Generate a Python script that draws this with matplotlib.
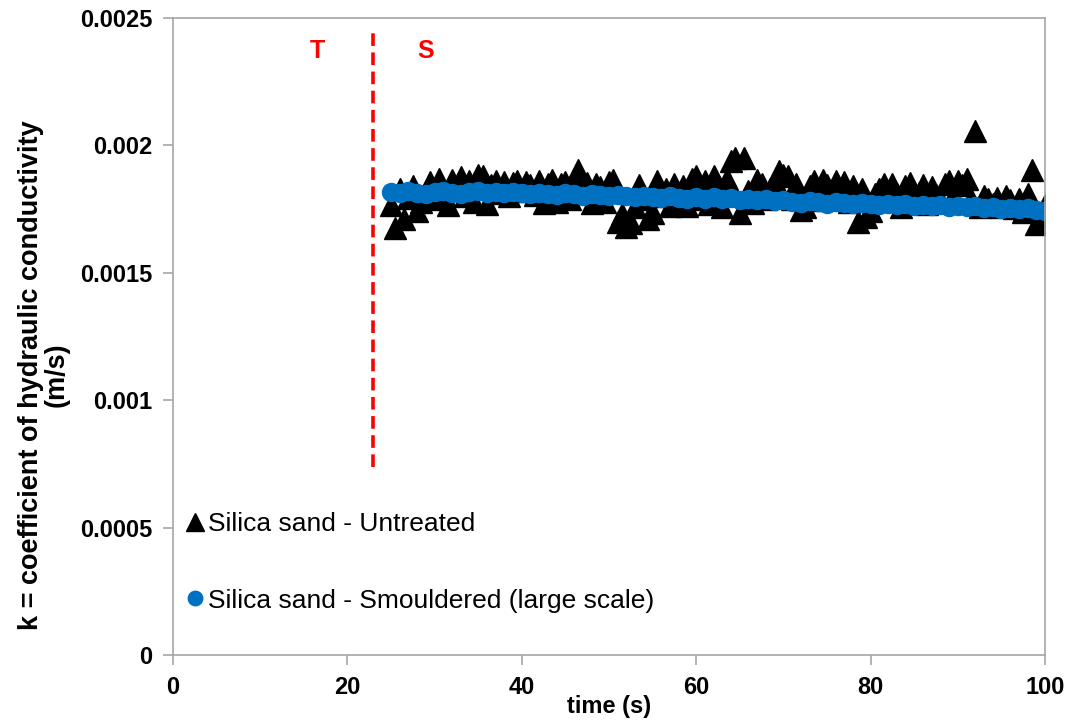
import numpy as np
import matplotlib
matplotlib.use("Agg")
from matplotlib import pyplot as plt

# untreated silica sand, k (m/s) sampled every 0.5 s
t_untreated = [
  25.0, 25.5, 26.0, 26.5, 27.0, 27.5, 28.0, 28.5, 29.0, 29.5,
  30.0, 30.5, 31.0, 31.5, 32.0, 32.5, 33.0, 33.5, 34.0, 34.5,
  35.0, 35.5, 36.0, 36.5, 37.0, 37.5, 38.0, 38.5, 39.0, 39.5,
  40.0, 40.5, 41.0, 41.5, 42.0, 42.5, 43.0, 43.5, 44.0, 44.5,
  45.0, 45.5, 46.0, 46.5, 47.0, 47.5, 48.0, 48.5, 49.0, 49.5,
  50.0, 50.5, 51.0, 51.5, 52.0, 52.5, 53.0, 53.5, 54.0, 54.5,
  55.0, 55.5, 56.0, 56.5, 57.0, 57.5, 58.0, 58.5, 59.0, 59.5,
  60.0, 60.5, 61.0, 61.5, 62.0, 62.5, 63.0, 63.5, 64.0, 64.5,
  65.0, 65.5, 66.0, 66.5, 67.0, 67.5, 68.0, 68.5, 69.0, 69.5,
  70.0, 70.5, 71.0, 71.5, 72.0, 72.5, 73.0, 73.5, 74.0, 74.5,
  75.0, 75.5, 76.0, 76.5, 77.0, 77.5, 78.0, 78.5, 79.0, 79.5,
  80.0, 80.5, 81.0, 81.5, 82.0, 82.5, 83.0, 83.5, 84.0, 84.5,
  85.0, 85.5, 86.0, 86.5, 87.0, 87.5, 88.0, 88.5, 89.0, 89.5,
  90.0, 90.5, 91.0, 91.5, 92.0, 92.5, 93.0, 93.5, 94.0, 94.5,
  95.0, 95.5, 96.0, 96.5, 97.0, 97.5, 98.0, 98.5, 99.0, 99.5,
  100.0,
]
k_untreated = [
  0.001765, 0.001676, 0.001830, 0.001712, 0.001795, 0.001840, 0.001742, 0.001780, 0.001820, 0.001858,
  0.001790, 0.001870, 0.001812, 0.001766, 0.001865, 0.001825, 0.001875, 0.001800, 0.001860, 0.001778,
  0.001884, 0.001880, 0.001770, 0.001845, 0.001862, 0.001815, 0.001858, 0.001800, 0.001852, 0.001860,
  0.001822, 0.001855, 0.001845, 0.001805, 0.001860, 0.001775, 0.001850, 0.001866, 0.001780, 0.001848,
  0.001858, 0.001790, 0.001870, 0.001905, 0.001815, 0.001852, 0.001776, 0.001850, 0.001835, 0.001778,
  0.001855, 0.001866, 0.001700, 0.001730, 0.001680, 0.001695, 0.001760, 0.001845, 0.001790, 0.001712,
  0.001735, 0.001860, 0.001800, 0.001830, 0.001762, 0.001850, 0.001780, 0.001840, 0.001762, 0.001870,
  0.001880, 0.001790, 0.001862, 0.001770, 0.001880, 0.001845, 0.001760, 0.001870, 0.001940, 0.001950,
  0.001735, 0.001950, 0.001820, 0.001775, 0.001865, 0.001850, 0.001790, 0.001830, 0.001862, 0.001900,
  0.001884, 0.001880, 0.001790, 0.001850, 0.001745, 0.001760, 0.001840, 0.001860, 0.001785, 0.001865,
  0.001845, 0.001790, 0.001862, 0.001820, 0.001855, 0.001778, 0.001840, 0.001700, 0.001830, 0.001720,
  0.001742, 0.001810, 0.001830, 0.001850, 0.001790, 0.001848, 0.001810, 0.001760, 0.001840, 0.001852,
  0.001800, 0.001815, 0.001845, 0.001770, 0.001835, 0.001805, 0.001790, 0.001850, 0.001860, 0.001800,
  0.001862, 0.001845, 0.001870, 0.001790, 0.002055, 0.001760, 0.001800, 0.001790, 0.001770, 0.001795,
  0.001760, 0.001800, 0.001785, 0.001755, 0.001790, 0.001740, 0.001810, 0.001905, 0.001690, 0.001720,
  0.001765,
]

# smouldered silica sand (large scale), one reading per second
t_smouldered = [
  25, 26, 27, 28, 29, 30, 31, 32, 33, 34, 35, 36, 37, 38, 39, 40, 41, 42, 43,
  44, 45, 46, 47, 48, 49, 50, 51, 52, 53, 54, 55, 56, 57, 58, 59, 60, 61, 62,
  63, 64, 65, 66, 67, 68, 69, 70, 71, 72, 73, 74, 75, 76, 77, 78, 79, 80, 81,
  82, 83, 84, 85, 86, 87, 88, 89, 90, 91, 92, 93, 94, 95, 96, 97, 98, 99, 100,
]
k_smouldered = [
  0.001818, 0.001812, 0.001820, 0.001815, 0.001811, 0.001819, 0.001822, 0.001814, 0.001810, 0.001817,
  0.001821, 0.001813, 0.001816, 0.001812, 0.001818, 0.001814, 0.001810, 0.001815, 0.001811, 0.001806,
  0.001812, 0.001808, 0.001803, 0.001809, 0.001805, 0.001800, 0.001806, 0.001802, 0.001797, 0.001803,
  0.001799, 0.001794, 0.001800, 0.001795, 0.001789, 0.001796, 0.001791, 0.001797, 0.001788, 0.001793,
  0.001786, 0.001790, 0.001784, 0.001789, 0.001782, 0.001786, 0.001780, 0.001776, 0.001783, 0.001778,
  0.001772, 0.001779, 0.001774, 0.001769, 0.001775, 0.001770, 0.001766, 0.001772, 0.001767, 0.001771,
  0.001764, 0.001768, 0.001761, 0.001766, 0.001760, 0.001764, 0.001757, 0.001762, 0.001755, 0.001759,
  0.001752, 0.001756, 0.001749, 0.001754, 0.001746, 0.001742,
]

x_ticks = [0, 20, 40, 60, 80, 100]
y_ticks = [0, 0.0005, 0.001, 0.0015, 0.002, 0.0025]
y_tick_labels = ["0", "0.0005", "0.001", "0.0015", "0.002", "0.0025"]

t_transition = 23  # T | S boundary

plt.rcParams["font.family"] = ["Liberation Sans", "DejaVu Sans"]

fig = plt.figure(figsize=(10.74, 7.2), dpi=100)
ax = fig.add_axes([0.161, 0.090, 0.812, 0.885])

ax.plot(t_untreated, k_untreated, linestyle="none", marker="^", markersize=16,
        color="black", label="Silica sand - Untreated")
ax.plot(t_smouldered, k_smouldered, linestyle="none", marker="o", markersize=13,
        color="#0070C0", label="Silica sand - Smouldered (large scale)")

ax.axvline(t_transition, ymin=0.295, ymax=0.985, color="#FF0000", linewidth=2.6,
           dashes=(3.5, 1.8))
ax.text(16.6, 0.00237, "T", color="#FF0000", fontsize=18, fontweight="bold",
        ha="center", va="center")
ax.text(29.0, 0.00237, "S", color="#FF0000", fontsize=18, fontweight="bold",
        ha="center", va="center")

ax.set_xlim(0, 100)
ax.set_ylim(0, 0.0025)
ax.set_xticks(x_ticks)
ax.set_yticks(y_ticks)
ax.set_yticklabels(y_tick_labels)

for s in ax.spines.values():
  s.set_color("#A6A6A6")
  s.set_linewidth(1.2)
ax.tick_params(axis="both", direction="out", length=7, width=1.2, color="#A6A6A6",
               labelsize=17, pad=8)
for lbl in ax.get_xticklabels() + ax.get_yticklabels():
  lbl.set_fontweight("bold")

ax.set_xlabel("time (s)", fontsize=17, fontweight="bold")
ax.xaxis.set_label_coords(0.5, -0.062)
ax.set_ylabel("k = coefficient of hydraulic conductivity\n(m/s)", fontsize=19.5,
              fontweight="bold", linespacing=1.0)
ax.yaxis.set_label_coords(-0.118, 0.44)

ax.legend(loc="lower left", bbox_to_anchor=(-0.007, 0.038), frameon=False, fontsize=19,
          markerscale=0.8, handlelength=0.7, handletextpad=0.15, labelspacing=2.0,
          borderaxespad=0.3)

fig.savefig("out.png", dpi=100)
